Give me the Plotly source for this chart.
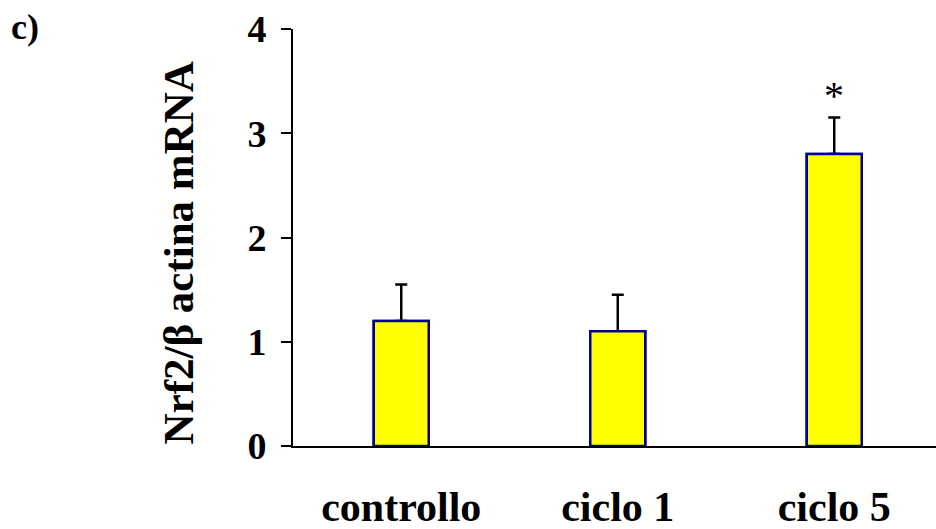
import plotly.graph_objects as go

# Nrf2 / beta-actin mRNA expression per group
categories = ["controllo", "ciclo 1", "ciclo 5"]
means = [1.20, 1.10, 2.80]
errors = [0.35, 0.35, 0.35]
significant = [False, False, True]
y_ticks = [0, 1, 2, 3, 4]

SERIF = "Liberation Serif, Times New Roman, serif"
BAR_FILL = "#FFFF00"
BAR_EDGE = "#000099"
BAR_W = 0.254

fig = go.Figure()

# bars carrying upper-only error bars
fig.add_trace(go.Bar(
    x=categories, y=means, width=BAR_W,
    marker=dict(color=BAR_FILL, line=dict(color=BAR_EDGE, width=2.5)),
    error_y=dict(type="data", symmetric=False, array=errors,
                 arrayminus=[0] * len(errors),
                 color="black", thickness=2.5, width=6),
    hoverinfo="skip", showlegend=False,
))
# same bars drawn again on top so only the upper whisker remains visible
fig.add_trace(go.Bar(
    x=categories, y=means, width=BAR_W,
    marker=dict(color=BAR_FILL, line=dict(color=BAR_EDGE, width=2.5)),
    showlegend=False,
))

annotations = []
for cat, m, e, sig in zip(categories, means, errors, significant):
    if sig:
        annotations.append(dict(
            x=cat, y=m + e, xref="x", yref="y", text="*", showarrow=False,
            yanchor="bottom", yshift=-2,
            font=dict(family=SERIF, size=40, color="black"),
        ))

W, H = 936, 529
ML, MR, MT, MB = 293, 0, 29, 83
pw, ph = W - ML - MR, H - MT - MB

annotations.append(dict(
    text="Nrf2/β actina mRNA", textangle=-90, showarrow=False,
    xref="paper", yref="paper", x=(178 - ML) / pw, y=(H - MB - 253.5) / ph,
    xanchor="center", yanchor="middle",
    font=dict(family=SERIF, size=43, color="black", weight="bold"),
))
annotations.append(dict(
    text="c)", showarrow=False,
    xref="paper", yref="paper", x=(25 - ML) / pw, y=(H - MB - 27) / ph,
    xanchor="center", yanchor="middle",
    font=dict(family=SERIF, size=36, color="black", weight="bold"),
))

fig.update_layout(
    width=W, height=H,
    margin=dict(l=ML, r=MR, t=MT, b=MB, pad=0, autoexpand=False),
    paper_bgcolor="white", plot_bgcolor="white",
    barmode="overlay",
    annotations=annotations,
    xaxis=dict(
        type="category", range=[-0.5, 2.47], automargin=False,
        showline=True, linecolor="black", linewidth=1.5,
        ticks="", showgrid=False, zeroline=False,
        ticklabelstandoff=23,
        tickfont=dict(family=SERIF, size=42, color="black", weight="bold"),
    ),
    yaxis=dict(
        range=[0, 4], tickvals=y_ticks, automargin=False,
        showline=True, linecolor="black", linewidth=2,
        ticks="outside", ticklen=10, tickwidth=2, tickcolor="black",
        showgrid=False, zeroline=False,
        ticklabelstandoff=7,
        tickfont=dict(family=SERIF, size=38, color="black", weight="bold"),
    ),
)

fig.write_html("out.html")
